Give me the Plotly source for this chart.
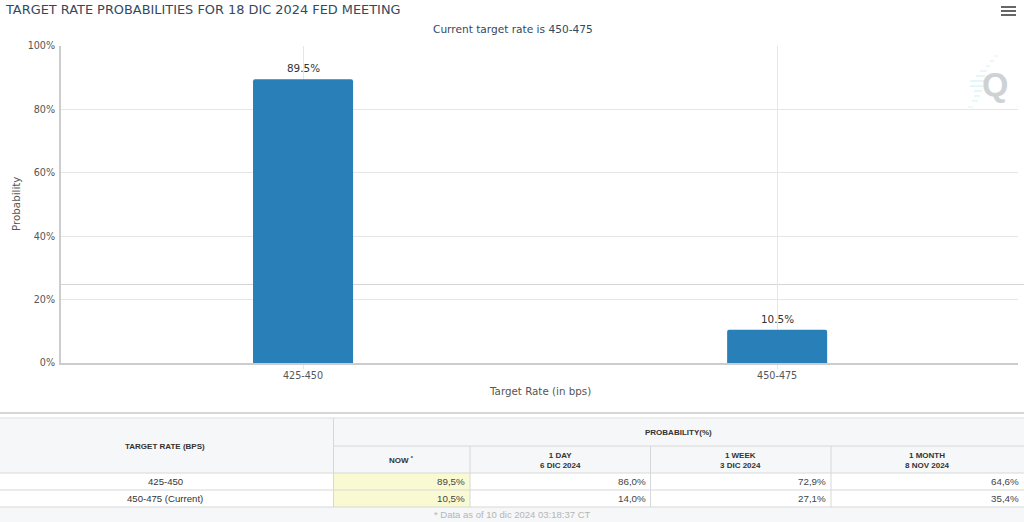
import plotly.graph_objects as go

W = 1024
H = 522

rates = ['425-450', '450-475']
probs = [89.5, 10.5]
y_ticks = [0, 20, 40, 60, 80, 100]

table_rates = ['425-450', '450-475 (Current)']
col_heads = ['NOW <sup>*</sup>', '1 DAY<br>6 DIC 2024', '1 WEEK<br>3 DIC 2024', '1 MONTH<br>8 NOV 2024']
now_vals = [89.5, 10.5]
day_vals = [86.0, 14.0]
week_vals = [72.9, 27.1]
month_vals = [64.6, 35.4]

TITLE = 'TARGET RATE PROBABILITIES FOR 18 DIC 2024 FED MEETING'
SUBTITLE = 'Current target rate is 450-475'
XTITLE = 'Target Rate (in bps)'
YTITLE = 'Probability'
FOOT = '* Data as of 10 dic 2024 03:18:37 CT'

# pixel helpers, y measured from the top of the page
def px(x):
    return x / W
def py(y):
    return 1 - y / H

shapes = []
annots = []

def box(x0, y0, x1, y1, fill):
    shapes.append(dict(type='rect', xref='paper', yref='paper', x0=px(x0), x1=px(x1), y0=py(y0), y1=py(y1),
                       fillcolor=fill, line_width=0, layer='below'))

def line(x0, y0, x1, y1, color='#dddddd', width=1, opacity=1, layer='above'):
    shapes.append(dict(type='line', xref='paper', yref='paper', x0=px(x0), x1=px(x1), y0=py(y0), y1=py(y1),
                       line=dict(color=color, width=width), opacity=opacity, layer=layer))

def text(x, y, s, size=10, color='#333333', anchor='center', family='Liberation Sans', **kw):
    annots.append(dict(xref='paper', yref='paper', x=px(x), y=py(y), text=s, showarrow=False, xanchor=anchor,
                       yanchor='middle', font=dict(size=size, color=color, family=family), **kw))

def fmt(v):
    return '{:.1f}%'.format(v).replace('.', ',')

# title block
text(3, 9, TITLE, size=12.9, color='#34495e', anchor='left', family='DejaVu Sans')
text(513, 29, SUBTITLE, size=10.6, color='#34495e', family='DejaVu Sans')

# axis titles
text(540, 391, XTITLE, size=10.3, color='#555555', family='DejaVu Sans')
text(16, 204, YTITLE, size=10.3, color='#555555', family='DejaVu Sans', textangle=-90)

# menu icon
for yy in [7, 11, 15]:
    line(1001, yy, 1016, yy, color='#666666', width=2)

# logo
text(995, 84, 'Q', size=34, color='#cfd2d3', family='Liberation Sans')
annots[-1]['font']['weight'] = 'bold'
for (x0, y0, x1, op) in [(994, 56, 998, .25), (990, 61, 994, .3), (986, 66, 990, .3), (980, 71, 987, .35),
                         (976, 76, 985, .4), (970, 81, 984, .4), (970, 86, 983, .4), (974, 91, 982, .4),
                         (974, 96, 980, .35), (972, 101, 978, .3), (968, 107, 973, .25)]:
    line(x0, y0, x1, y0, color='#7fd6dc', width=1, opacity=op)

# stray cursor line
line(61, 284.5, 1024, 284.5, color='#d5d5d5', width=1, layer='below')

# table background and borders
line(0, 413, W, 413, color='#c8c8c8', width=1.5)
box(0, 418, W, 473, '#f6f7f8')
box(0, 507, W, 522, '#f6f7f8')
box(333.5, 473, 470, 507, '#fafad2')
line(0, 418, W, 418, color='#dddddd')
for yy in [473, 490, 507]:
    line(0, yy, W, yy, color='#d8d8d8')
line(333.5, 446, W, 446, color='#d8d8d8')
line(333.5, 418, 333.5, 507, color='#d8d8d8')
col_edges = [333.5, 470, 650.5, 831, 1024]
for xx in col_edges[1:4]:
    line(xx, 446, xx, 507, color='#d8d8d8')

text(165, 446, '<b>TARGET RATE (BPS)</b>', size=8, color='#333333')
text(678, 432, '<b>PROBABILITY(%)</b>', size=8, color='#333333')
for i, h in enumerate(col_heads):
    text((col_edges[i] + col_edges[i + 1]) / 2, 460, '<b>' + h + '</b>', size=8, color='#333333')
row_y = [481.5, 498.5]
for r in range(2):
    text(165, row_y[r], table_rates[r], size=9.6, color='#333333')
    for i, vals in enumerate([now_vals, day_vals, week_vals, month_vals]):
        text(col_edges[i + 1] - 3, row_y[r], fmt(vals[r]), size=9.8, color='#444444', anchor='right')
text(512, 514.5, FOOT, size=9.5, color='#b5b5b5')

# value labels sit on the bars, placed by the data axes
for rate, p in zip(rates, probs):
    annots.append(dict(xref='x', yref='y', x=rate, y=p, text='{:.1f}%'.format(p), showarrow=False,
                       yanchor='bottom', yshift=3, font=dict(family='DejaVu Sans', size=10.4, color='#333333')))

fig = go.Figure()
fig.add_trace(go.Bar(x=rates, y=probs, width=0.211,
                     marker=dict(color='#2980b9', cornerradius=2, line_width=0),
                     hoverinfo='skip'))

fig.update_layout(
    width=W, height=H, margin=dict(l=0, r=0, t=0, b=0, autoexpand=False),
    paper_bgcolor='white', plot_bgcolor='white',
    showlegend=False, shapes=shapes, annotations=annots,
    font=dict(family='DejaVu Sans', color='#666666', size=10),
    xaxis=dict(domain=[px(61), px(1018)], type='category', range=[-0.5105, 1.508], automargin=False,
               showgrid=True, gridcolor='#e6e6e6', showline=True, linecolor='#cccccc', linewidth=2,
               ticks='outside', ticklen=4, tickcolor='#e6e6e6', ticklabelstandoff=-2,
               tickfont=dict(size=9.6, color='#555555')),
    yaxis=dict(domain=[py(363), py(46)], range=[0, 100], tickvals=y_ticks, ticktext=[str(v) + '%' for v in y_ticks],
               automargin=False, showgrid=True, gridcolor='#e6e6e6', zeroline=False,
               showline=True, linecolor='#cccccc', linewidth=2, ticklabelstandoff=2,
               tickfont=dict(size=9.6, color='#555555')),
)

fig.write_html('out.html', post_script="document.body.style.margin='0';document.body.style.overflow='hidden';",
               config=dict(displayModeBar=False))
